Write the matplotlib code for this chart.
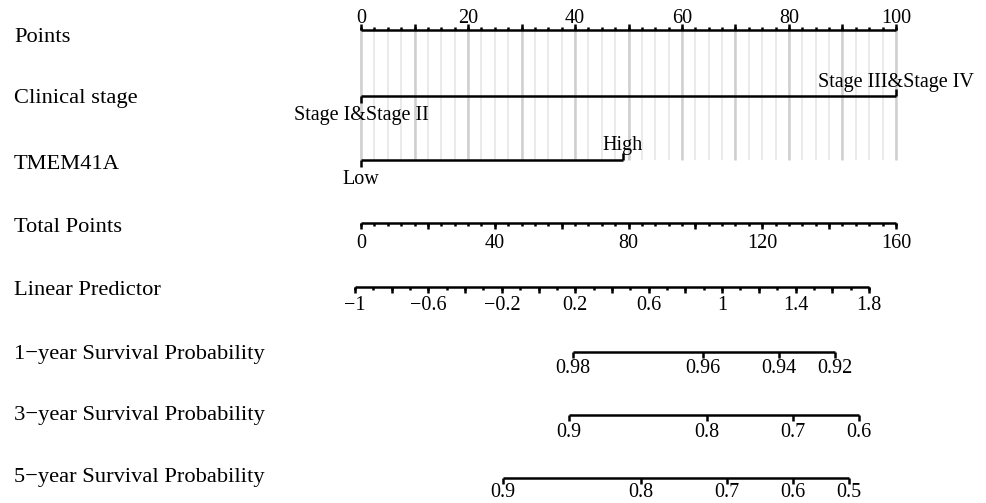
import matplotlib
matplotlib.use("Agg")
import matplotlib.pyplot as plt
import numpy as np
from matplotlib.transforms import blended_transform_factory

plt.rcParams['font.family'] = ['Liberation Serif', 'DejaVu Serif']
plt.rcParams['axes.unicode_minus'] = True

# ---------------- data ----------------
row_labels = ["Points", "Clinical stage", "TMEM41A", "Total Points", "Linear Predictor",
              "1\u2212year Survival Probability", "3\u2212year Survival Probability",
              "5\u2212year Survival Probability"]

points_labels = [0, 20, 40, 60, 80, 100]
points_max = 100

stage_levels = ["Stage I&Stage II", "Stage III&Stage IV"]
stage_points = [0, 100]

tmem_levels = ["Low", "High"]
tmem_points = [0, 48.9]

total_labels = [0, 40, 80, 120, 160]

lp_labels = [-1, -0.6, -0.2, 0.2, 0.6, 1, 1.4, 1.8]
lp_at_zero_total = -0.967       # linear predictor at total points = 0
lp_per_total_point = 0.018213   # change of linear predictor per total point

surv1_probs = [0.98, 0.96, 0.94, 0.92]
surv1_lp = [0.189, 0.894, 1.311, 1.614]
surv3_probs = [0.9, 0.8, 0.7, 0.6]
surv3_lp = [0.164, 0.916, 1.387, 1.747]
surv5_probs = [0.9, 0.8, 0.7, 0.6, 0.5]
surv5_lp = [-0.196, 0.556, 1.025, 1.384, 1.692]

# ---------------- layout ----------------
W, H = 986, 503
PX_PER_PT = 5.35
X0 = 361
LW = 1.8
TICK_FS = 14.5
ROW_FS = 16.2

fig = plt.figure(figsize=(W / 100, H / 100), dpi=100)
ax = fig.add_axes([0, 0, 1, 1])
ax.set_xlim(-X0 / PX_PER_PT, (W - X0) / PX_PER_PT)
ax.set_ylim(H, 0)
ax.axis('off')

total_max = total_labels[-1]


def tp_to_x(tp):
    return np.asarray(tp, float) * points_max / total_max


def lp_to_x(lp):
    return tp_to_x((np.asarray(lp, float) - lp_at_zero_total) / lp_per_total_point)


def fmt(v):
    s = ("%g" % v)
    return s.replace("-", "\u2212")


def hline(y, x0, x1):
    ax.plot([x0, x1], [y, y], color='black', lw=LW, solid_capstyle='butt', zorder=3)


def ticks(xs, y, length, up):
    ax.vlines(xs, y, y - length if up else y + length, color='black', lw=LW, zorder=3)


def labels(xs, texts, baseline):
    for x, t in zip(xs, texts):
        ax.text(x, baseline, t, ha='center', va='baseline', fontsize=TICK_FS, zorder=4)


# rows (line y, label baseline)
row_line_y = [30, 96, 160, 223, 287, 352, 415, 478]
row_text_y = [41.5, 102.5, 169, 232, 295, 358.5, 420, 482]

trans = blended_transform_factory(fig.transFigure, ax.transData)
for lab, yb in zip(row_labels, row_text_y):
    ax.text(14 / W, yb, lab, transform=trans, ha='left', va='baseline', fontsize=ROW_FS)

# gridlines
grid_minor = np.arange(0, points_max + 0.01, 2.5)
grid_major = np.arange(0, points_max + 0.01, 10)
ax.vlines(grid_minor, row_line_y[0], row_line_y[2], color='#e4e4e4', lw=1.1, zorder=1)
ax.vlines(grid_major, row_line_y[0], row_line_y[2], color='#cfcfcf', lw=1.8, zorder=1)

# Points axis
y = row_line_y[0]
hline(y, 0, points_max)
ticks(grid_minor, y, 3, up=True)
ticks(grid_major, y, 6, up=True)
labels(points_labels, [fmt(v) for v in points_labels], 23)

# Clinical stage
y = row_line_y[1]
hline(y, stage_points[0], stage_points[1])
ticks([stage_points[0]], y, 7, up=False)
ticks([stage_points[1]], y, 7, up=True)
labels([stage_points[0]], [stage_levels[0]], 119.5)
labels([stage_points[1]], [stage_levels[1]], 86.5)

# TMEM41A
y = row_line_y[2]
hline(y, tmem_points[0], tmem_points[1])
ticks([tmem_points[0]], y, 7, up=False)
ticks([tmem_points[1]], y, 7, up=True)
labels([tmem_points[0]], [tmem_levels[0]], 183.5)
labels([tmem_points[1]], [tmem_levels[1]], 150)

# Total points
y = row_line_y[3]
hline(y, tp_to_x(0), tp_to_x(total_max))
ticks(tp_to_x(np.arange(0, total_max + 0.01, 4)), y, 3, up=False)
ticks(tp_to_x(np.arange(0, total_max + 0.01, 20)), y, 6, up=False)
labels(tp_to_x(total_labels), [fmt(v) for v in total_labels], 248)

# Linear predictor
y = row_line_y[4]
hline(y, lp_to_x(lp_labels[0]), lp_to_x(lp_labels[-1]))
ticks(lp_to_x(np.arange(lp_labels[0], lp_labels[-1] + 0.001, 0.1)), y, 3, up=False)
ticks(lp_to_x(np.arange(lp_labels[0], lp_labels[-1] + 0.001, 0.2)), y, 6, up=False)
labels(lp_to_x(lp_labels), [fmt(v) for v in lp_labels], 310)

# Survival probabilities
for yi, probs, lps, base in [(5, surv1_probs, surv1_lp, 373),
                             (6, surv3_probs, surv3_lp, 437),
                             (7, surv5_probs, surv5_lp, 497)]:
    y = row_line_y[yi]
    xs = lp_to_x(lps)
    hline(y, xs.min(), xs.max())
    ticks(xs, y, 6, up=False)
    labels(xs, [fmt(v) for v in probs], base)

fig.savefig("out.png", dpi=100, facecolor='white')
